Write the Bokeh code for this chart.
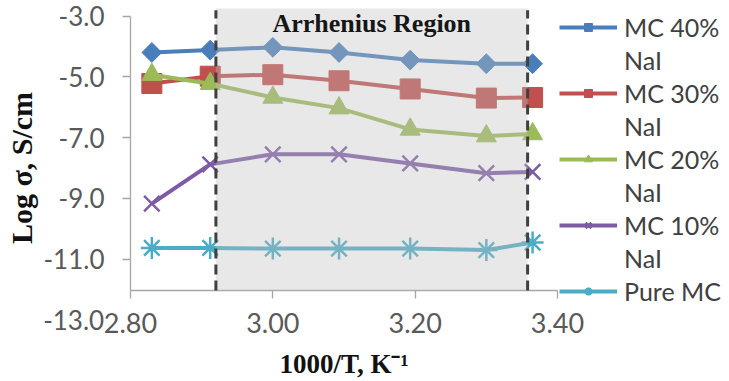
import numpy as np
from bokeh.plotting import figure
from bokeh.models import Range1d, FixedTicker, BoxAnnotation, Label, Legend, LegendItem
from bokeh.embed import file_html
from bokeh.resources import INLINE

# ---- data ----
inv_T = [2.83, 2.912, 3.00, 3.093, 3.193, 3.30, 3.365]
mc40 = [-4.2, -4.12, -4.03, -4.2, -4.45, -4.57, -4.57]
mc30 = [-5.22, -4.98, -4.93, -5.13, -5.4, -5.7, -5.68]
mc20 = [-4.93, -5.23, -5.68, -6.03, -6.73, -6.95, -6.88]
mc10 = [-9.17, -7.88, -7.55, -7.55, -7.85, -8.17, -8.13]
pure = [-10.63, -10.63, -10.65, -10.65, -10.65, -10.7, -10.45]

series_names = ["MC 40%", "MC 30%", "MC 20%", "MC 10%", "Pure MC"]
series_sub = ["NaI", "NaI", "NaI", "NaI", None]
series_vals = [mc40, mc30, mc20, mc10, pure]
colors = ["#4A7EBB", "#C0504D", "#9BBB59", "#7E5BA6", "#4BACC6"]
markers = ["square", "square", "triangle", "x", "asterisk"]
msizes = [14, 20, 20, 22, 22]
angles = [np.pi / 4, 0, 0, 0, 0]

x_min, x_max = 2.80, 3.40
y_min, y_max = -12.03, -3.0
x_ticks = [2.80, 3.00, 3.20, 3.40]
x_tick_labels = ["2.80", "3.00", "3.20", "3.40"]
y_ticks = [-3, -5, -7, -9, -11]
y_tick_labels = ["-3.0", "-5.0", "-7.0", "-9.0", "-11.0"]
y_extra_tick = -13
y_extra_label = "-13.0"
region = (2.92, 3.358)
region_top = -2.753

W, H = 729, 381
p = figure(width=W, height=H, x_range=Range1d(2.61733, 3.64168), y_range=Range1d(-15.023, -2.490),
           output_backend="svg", toolbar_location=None,
           min_border_left=0, min_border_right=0, min_border_top=0, min_border_bottom=0)
p.outline_line_color = None
p.grid.visible = False
p.background_fill_color = "white"

leg_items = []
for name, sub, vals, c, m, s, a in zip(series_names, series_sub, series_vals, colors, markers, msizes, angles):
    ln = p.line(inv_T, vals, line_color=c, line_width=4)
    if m in ("x", "asterisk"):
        sc = p.scatter(inv_T, vals, marker=m, size=s, line_color=c, line_width=2.5, angle=a)
    else:
        sc = p.scatter(inv_T, vals, marker=m, size=s, fill_color=c, line_color=c, angle=a)
    leg_items.append(LegendItem(label=name, renderers=[ln, sc]))
    if sub:
        dummy = p.line(x=[], y=[], line_alpha=0)
        leg_items.append(LegendItem(label=sub, renderers=[dummy]))

box = BoxAnnotation(left=region[0], right=region[1], bottom=y_min, top=region_top, fill_color="#BFBFBF",
                    fill_alpha=0.36, line_color=None)
p.add_layout(box)
p.segment(x0=list(region), y0=[y_min, y_min], x1=list(region), y1=[region_top - 0.06] * 2,
          line_color="#404040", line_width=3, line_dash="10 6", level="overlay")

p.add_layout(Label(x=(region[0] + region[1]) / 2, y=region_top, text="Arrhenius Region", text_align="center",
                   text_baseline="top", y_offset=-1, text_font="Liberation Serif", text_font_style="bold",
                   text_font_size="26px", text_color="#161616"))

# axes at fixed locations inside the full-canvas frame
xa, ya = p.xaxis[0], p.yaxis[0]
xa.fixed_location = y_min
ya.fixed_location = x_min
xa.bounds = (x_min, x_max)
ya.bounds = (y_min, y_max)
for ax in (xa, ya):
    ax.axis_line_color = "#A6A6A6"
    ax.axis_line_width = 1.3
    ax.major_tick_line_color = "#A6A6A6"
    ax.major_tick_line_width = 1.3
    ax.major_tick_out = 8
    ax.major_tick_in = 0
    ax.minor_tick_line_color = None
    ax.major_label_text_font = "Lato"
    ax.major_label_text_color = "#595959"

xa.ticker = FixedTicker(ticks=x_ticks)
xa.major_label_overrides = {t: l for t, l in zip(x_ticks, x_tick_labels)}
xa.major_label_text_font_size = "27px"
xa.major_label_standoff = 14

ya.ticker = FixedTicker(ticks=y_ticks)
ya.major_label_overrides = {t: l for t, l in zip(y_ticks, y_tick_labels)}
ya.major_label_text_font_size = "26px"
ya.major_label_standoff = 18

p.add_layout(Label(x=2.763, y=y_extra_tick, text=y_extra_label, text_align="right", text_baseline="middle",
                   text_font="Lato", text_font_size="26px", text_color="#595959"))

p.add_layout(Label(x=2.6468, y=-8.0, text="Log σ, S/cm", angle=np.pi / 2, text_align="center",
                   text_baseline="middle", text_font="Liberation Serif", text_font_style="bold",
                   text_font_size="30px", text_color="#111111"))
p.add_layout(Label(x=3.10, y=-14.46, text="1000/T, K⁻¹", text_align="center",
                   text_baseline="middle", text_font="Liberation Serif", text_font_style="bold",
                   text_font_size="27px", text_color="#111111"))

legend = Legend(items=leg_items, location=(559, 74), orientation="vertical",
                label_text_font="Lato", label_text_font_size="25px", label_text_color="#404040",
                glyph_width=58, glyph_height=20, label_height=33, label_standoff=7, spacing=0,
                padding=3, margin=0, border_line_color=None, background_fill_alpha=0)
p.add_layout(legend, "center")

open("out.html", "w").write(file_html(p, INLINE))
